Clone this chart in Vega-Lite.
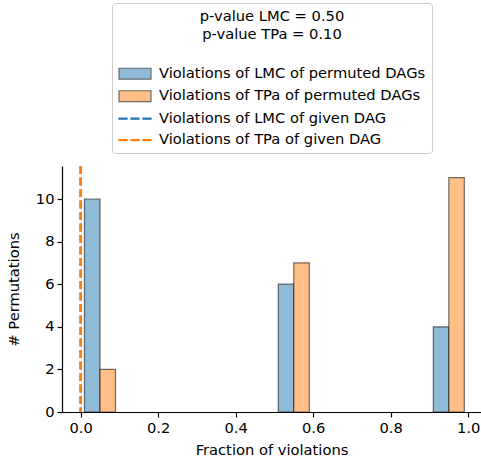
{
  "$schema": "https://vega.github.io/schema/vega-lite/v6.json",
  "width": 419,
  "height": 246,
  "autosize": {"type": "none"},
  "padding": {"left": 62, "top": 166, "right": 0, "bottom": 49},
  "background": "white",
  "config": {
    "view": {"stroke": null},
    "font": "DejaVu Sans",
    "axis": {
      "labelFont": "DejaVu Sans",
      "labelFontSize": 14.7,
      "labelColor": "black",
      "titleFont": "DejaVu Sans",
      "titleFontSize": 14.7,
      "titleFontWeight": "normal",
      "titleColor": "black",
      "tickColor": "black",
      "tickSize": 5,
      "tickWidth": 1.2,
      "domainColor": "black",
      "domainWidth": 1.2,
      "grid": false
    },
    "legend": {
      "orient": "none",
      "legendX": 50,
      "legendY": -163,
      "titleFont": "DejaVu Sans",
      "titleFontSize": 14.7,
      "titleFontWeight": "normal",
      "titleColor": "black",
      "titleAnchor": "middle",
      "titleAlign": "center",
      "titleLineHeight": 18,
      "titlePadding": 23,
      "labelFont": "DejaVu Sans",
      "labelFontSize": 14.7,
      "labelColor": "black",
      "labelLimit": 0,
      "labelOffset": 15,
      "symbolSize": 256,
      "symbolOffset": 8,
      "symbolStrokeWidth": 1.2,
      "symbolOpacity": 1,
      "rowPadding": 5.5,
      "padding": 6,
      "strokeColor": "#cccccc",
      "fillColor": "white",
      "cornerRadius": 3
    }
  },
  "datasets": {
    "bars": [
      {"series": "Violations of LMC of permuted DAGs", "x0": 0.01, "x1": 0.05, "count": 10},
      {"series": "Violations of LMC of permuted DAGs", "x0": 0.51, "x1": 0.55, "count": 6},
      {"series": "Violations of LMC of permuted DAGs", "x0": 0.91, "x1": 0.95, "count": 4},
      {"series": "Violations of TPa of permuted DAGs", "x0": 0.05, "x1": 0.09, "count": 2},
      {"series": "Violations of TPa of permuted DAGs", "x0": 0.55, "x1": 0.59, "count": 7},
      {"series": "Violations of TPa of permuted DAGs", "x0": 0.95, "x1": 0.99, "count": 11}
    ],
    "lines": [
      {"series": "Violations of LMC of given DAG", "value": 0},
      {"series": "Violations of TPa of given DAG", "value": 0}
    ],
    "none": []
  },
  "layer": [
    {
      "data": {"name": "bars"},
      "mark": {"type": "bar", "stroke": "black", "strokeOpacity": 0.55, "strokeWidth": 1.2},
      "encoding": {
        "x": {
          "field": "x0",
          "type": "quantitative",
          "scale": {"domain": [-0.048, 1.033], "nice": false, "zero": false},
          "axis": {"values": [0, 0.2, 0.4, 0.6, 0.8, 1.0], "format": ".1f", "title": "Fraction of violations", "labelPadding": 3, "titlePadding": 8}
        },
        "x2": {"field": "x1"},
        "y": {
          "field": "count",
          "type": "quantitative",
          "scale": {"domain": [0, 11.55], "nice": false},
          "axis": {"values": [0, 2, 4, 6, 8, 10], "title": "# Permutations", "labelPadding": 3, "titlePadding": 14}
        },
        "y2": {"datum": 0},
        "color": {
          "field": "series",
          "type": "nominal",
          "scale": {
            "domain": [
              "Violations of LMC of permuted DAGs",
              "Violations of TPa of permuted DAGs",
              "Violations of LMC of given DAG",
              "Violations of TPa of given DAG"
            ],
            "range": ["#8fbbd9", "#ffbf86", "#1f77b4", "#ff7f0e"]
          },
          "legend": {"title": ["p-value LMC = 0.50", "p-value TPa = 0.10"]}
        }
      }
    },
    {
      "data": {"name": "lines"},
      "mark": {"type": "rule", "strokeWidth": 2.2, "strokeDash": [8, 3.5]},
      "encoding": {
        "x": {"field": "value", "type": "quantitative"},
        "stroke": {
          "field": "series",
          "type": "nominal",
          "scale": {
            "domain": [
              "Violations of LMC of permuted DAGs",
              "Violations of TPa of permuted DAGs",
              "Violations of LMC of given DAG",
              "Violations of TPa of given DAG"
            ],
            "range": ["#6a6a6a", "#6a6a6a", "#1f77b4", "#ff7f0e"]
          },
          "legend": {"title": ["p-value LMC = 0.50", "p-value TPa = 0.10"]}
        }
      }
    },
    {
      "mark": {"type": "rule", "stroke": "black", "strokeWidth": 1.2},
      "encoding": {
        "y": {"datum": 11.55, "type": "quantitative"}
      }
    },
    {
      "data": {"name": "none"},
      "mark": {"type": "point", "filled": true, "opacity": 1},
      "encoding": {
        "color": {
          "field": "series",
          "type": "nominal",
          "legend": {"title": ["p-value LMC = 0.50", "p-value TPa = 0.10"]}
        },
        "stroke": {
          "field": "series",
          "type": "nominal",
          "legend": {"title": ["p-value LMC = 0.50", "p-value TPa = 0.10"]}
        },
        "shape": {
          "field": "series",
          "type": "nominal",
          "scale": {
            "domain": [
              "Violations of LMC of permuted DAGs",
              "Violations of TPa of permuted DAGs",
              "Violations of LMC of given DAG",
              "Violations of TPa of given DAG"
            ],
            "range": [
              "M-2,-0.68H2V0.68H-2Z",
              "M-2,-0.68H2V0.68H-2Z",
              "M-2,-0.0625H-1V0.0625H-2Z M-0.5,-0.0625H0.5V0.0625H-0.5Z M1,-0.0625H2V0.0625H1Z",
              "M-2,-0.0625H-1V0.0625H-2Z M-0.5,-0.0625H0.5V0.0625H-0.5Z M1,-0.0625H2V0.0625H1Z"
            ]
          },
          "legend": {"title": ["p-value LMC = 0.50", "p-value TPa = 0.10"]}
        }
      }
    }
  ]
}
